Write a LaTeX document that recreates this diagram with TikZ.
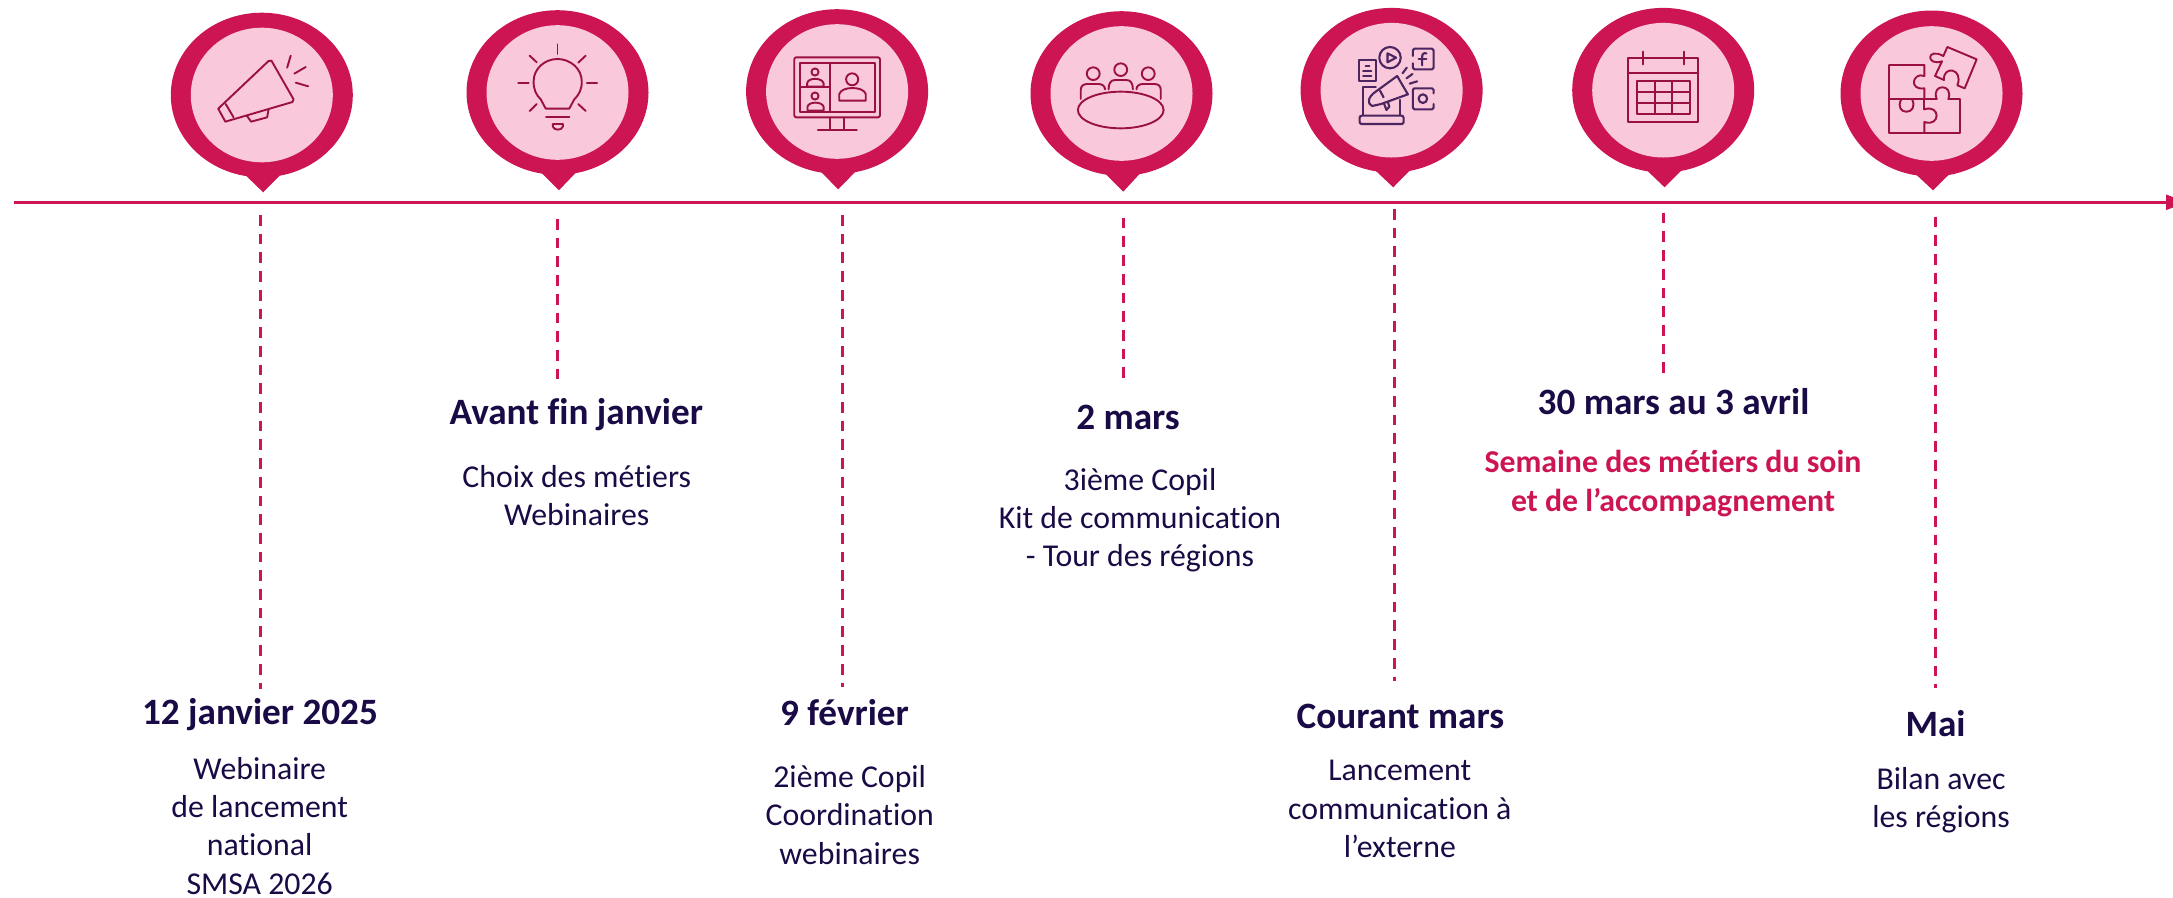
\documentclass[tikz,border=0pt]{standalone}
\usepackage{fontspec}
\setmainfont[Ligatures=NoCommon]{Carlito}
\usetikzlibrary{arrows.meta}
\definecolor{pinkdark}{HTML}{CC1552}
\definecolor{pinklight}{HTML}{F9C8DA}
\definecolor{iconred}{HTML}{9A1040}
\definecolor{iconpurple}{HTML}{4A2560}
\definecolor{navy}{HTML}{1A0A45}
\tikzset{
  axisline/.style={draw=pinkdark,line width=2.4pt,-{Triangle[length=21pt,width=15pt]}},
  dashline/.style={draw=pinkdark,line width=2.6pt,dash pattern=on 10.7pt off 8pt},
  titlelab/.style={anchor=base,inner sep=0pt,text=navy,font=\fontsize{37.2}{45}\selectfont\bfseries},
  bodylab/.style={anchor=base,inner sep=0pt,align=center,text=navy,font=\fontsize{31.8}{38.3}\selectfont},
  pinklab/.style={anchor=base,inner sep=0pt,align=center,text=pinkdark,font=\fontsize{31.8}{38.3}\selectfont\bfseries},
  iconline/.style={draw=iconred,line width=1.9pt,line join=round,line cap=round},
  iconlinep/.style={draw=iconpurple,line width=2.1pt,line join=round,line cap=round},
  zoomedA/.style={x=0.35714pt,y=-0.33333pt},
  zoomed/.style={x=0.33333pt,y=-0.33333pt}
}
\newcommand{\mypin}[8]{%
  \fill[pinkdark] (#1,#2) ellipse [x radius=#3,y radius=#4];
  \fill[pinkdark] (#1-16,#2+80.5) -- (#7,#8) -- (#1+18,#2+80.5) -- cycle;
  \fill[pinklight] (#1,#2) ellipse [x radius=#5,y radius=#6];
}
\begin{document}
\begin{tikzpicture}[x=1pt,y=-1pt]
\useasboundingbox (0,0) rectangle (2173,897);
\begin{scope}
\clip (0,0) rectangle (2173,897);
% axis
\coordinate (axisA) at (14,202.3);
\coordinate (axisB) at (2187,202.3);
\draw[axisline] (axisA) -- (axisB);
\end{scope}
% pins
\mypin{261.8}{95}{91}{82.3}{71}{67.3}{263.2}{192.3}
\mypin{557.5}{92.5}{91}{82.3}{71}{67.3}{558.9}{190.3}
\mypin{837.1}{91.5}{91}{82.3}{71}{67.3}{838.2}{189.3}
\mypin{1121.5}{93.5}{91}{82.3}{71}{67.3}{1123.2}{191.7}
\mypin{1391.6}{90.2}{91}{82.3}{71}{67.3}{1393.2}{187.3}
\mypin{1663.2}{90.2}{91}{82.3}{71}{67.3}{1664.6}{187.3}
\mypin{1931.5}{93.5}{91}{83}{71}{67.3}{1933}{190.3}
% dashed connectors
\foreach \n/\xx/\ya/\yb in {1/260.3/215/689,2/557.7/219/379,3/842.7/215/686.7,4/1123.3/217.7/377.7,5/1394.3/209/680.7,6/1663.7/212.7/372.7,7/1935.3/216.7/688}{
  \coordinate (d\n a) at (\xx,\ya);
  \coordinate (d\n b) at (\xx,\yb);
  \draw[dashline] (d\n a) -- (d\n b);
}
% labels (multi-line nodes are placed by their last baseline)
\node[titlelab] (t1) at (260,724) {12 janvier 2025};
\node[bodylab] (b1) at (259.7,894) {Webinaire\\de lancement\\national\\SMSA 2026};
\node[titlelab] (t2) at (576.3,424.3) {Avant fin janvier};
\node[bodylab] (b2) at (576.7,525.3) {Choix des métiers\\Webinaires};
\node[titlelab] (t3) at (844.5,725) {9 février};
\node[bodylab] (b3) at (849.7,864) {2ième Copil\\Coordination\\webinaires};
\node[titlelab] (t4) at (1128,429.3) {2 mars};
\node[bodylab] (b4) at (1140,566.7) {3ième Copil\\Kit de communication\\- Tour des régions};
\node[titlelab] (t5) at (1400.4,728.3) {Courant mars};
\node[bodylab] (b5) at (1399.8,857.3) {Lancement\\communication à\\l’externe};
\node[titlelab] (t6) at (1673.5,414) {30 mars au 3 avril};
\node[pinklab] (b6) at (1673,511) {Semaine des métiers du soin\\et de l’accompagnement};
\node[titlelab] (t7) at (1935.5,736) {Mai};
\node[bodylab] (b7) at (1941,827.7) {Bilan avec\\les régions};
% icon 1 megaphone
\begin{scope}[shift={(120,0)},zoomedA]
\draw[iconline] (275,326) -- (416,183) -- (424,182) -- (486,298) -- (483,306) -- (295,365) -- cycle;
\draw[iconline] (296,312) -- (318,352);
\draw[iconline] (355,347) -- (367,365) -- (412,352) -- (416,328);
\draw[iconline] (478,167) -- (468,203);
\draw[iconline] (520,201) -- (488,221);
\draw[iconline] (527,259) -- (492,248);
% icon 2 bulb
\draw[iconline] (1192,326) -- (1178,298) .. controls (1165,285) and (1158,268) .. (1158,245) .. controls (1158,205) and (1190,177) .. (1225,177) .. controls (1260,177) and (1293,205) .. (1293,245) .. controls (1293,268) and (1285,285) .. (1272,298) -- (1258,326) -- cycle;
\draw[iconline] (1193,350) -- (1258,350);
\draw[iconline] (1212,372) -- (1240,372) -- (1240,380) .. controls (1236,392) and (1216,392) .. (1212,380) -- cycle;
\draw[iconline] (1225,133) -- (1225,162);
\draw[iconline] (1147,167) -- (1167,187);
\draw[iconline] (1304,167) -- (1283,188);
\draw[iconline] (1115,250) -- (1144,250);
\draw[iconline] (1307,250) -- (1336,250);
\draw[iconline] (1147,333) -- (1167,312);
\draw[iconline] (1304,333) -- (1283,312);
\end{scope}
% icon 3 screen, icon 4 meeting
\begin{scope}[shift={(680,0)},zoomedA]
\draw[iconline,rounded corners=2pt] (320,172) rectangle (560,352);
\draw[iconline] (336,190) rectangle (545,335);
\draw[iconline] (420,190) -- (420,335);
\draw[iconline] (336,262) -- (420,262);
\draw[iconline] (420,352) -- (420,390);
\draw[iconline] (460,352) -- (460,390);
\draw[iconline] (386,390) -- (495,390);
\draw[iconline] (378,216) ellipse [x radius=10,y radius=10.7];
\draw[iconline] (356,260) -- (356,250) .. controls (358,232) and (398,232) .. (402,250) -- (402,260) -- cycle;
\draw[iconline] (378,288) ellipse [x radius=10,y radius=10.7];
\draw[iconline] (357,332) -- (357,320) .. controls (360,304) and (398,304) .. (402,320) -- (402,332) -- cycle;
\draw[iconline] (482,238) ellipse [x radius=17,y radius=18];
\draw[iconline] (446,302) -- (446,282) .. controls (452,258) and (514,258) .. (520,282) -- (520,302) -- cycle;
\draw[iconline] (1234,330) ellipse [x radius=120,y radius=55];
\draw[iconline] (1157,221) ellipse [x radius=18,y radius=19];
\draw[iconline] (1234,209) ellipse [x radius=18,y radius=19];
\draw[iconline] (1311,221) ellipse [x radius=18,y radius=19];
\draw[iconline] (1122,297) -- (1122,270) .. controls (1122,258) and (1130,252) .. (1140,252) -- (1172,252) .. controls (1182,252) and (1190,258) .. (1190,268);
\draw[iconline] (1200,268) .. controls (1200,250) and (1206,240) .. (1218,240) -- (1250,240) .. controls (1262,240) and (1268,250) .. (1268,268);
\draw[iconline] (1278,268) .. controls (1278,258) and (1286,252) .. (1296,252) -- (1328,252) .. controls (1340,252) and (1346,258) .. (1346,270) -- (1346,297);
\end{scope}
% icon 5 social, icon 6 calendar
\begin{scope}[shift={(1240,0)},zoomedA]
\draw[iconlinep] (333,180) rectangle (380,243);
\draw[iconlinep] (352,197) -- (362,197);
\draw[iconlinep] (345,212) -- (368,212);
\draw[iconlinep] (345,227) -- (368,227);
\draw[iconlinep] (420,173) ellipse [x radius=30,y radius=32];
\draw[iconlinep] (413,160) -- (437,173) -- (413,187) -- cycle;
\draw[iconlinep,rounded corners=1.5pt] (484,168) -- (484,146) -- (542,146) -- (542,208) -- (484,208) -- (484,190);
\draw[iconlinep] (522,160) .. controls (512,158) and (510,163) .. (510,172) -- (510,196);
\draw[iconlinep] (500,177) -- (522,177);
\draw[iconlinep] (467,203) -- (455,220);
\draw[iconlinep] (483,222) -- (466,235);
\draw[iconlinep] (496,244) -- (475,251);
\draw[iconlinep,rounded corners=1.5pt] (542,280) -- (542,265) -- (484,265) -- (484,328) -- (542,328) -- (542,312);
\draw[iconlinep] (512,296) ellipse [x radius=12,y radius=13];
\draw[iconlinep] (380,260) -- (345,260) -- (345,345);
\draw[iconlinep] (447,300) -- (447,345);
\draw[iconlinep,rounded corners=2pt] (335,347) -- (458,347) -- (458,372) -- (335,372) -- cycle;
\draw[iconlinep] (440,228) -- (470,283) -- (395,312);
\draw[iconlinep] (440,228) -- (380,275);
\draw[iconlinep] (380,275) .. controls (358,290) and (355,312) .. (370,318) -- (395,312);
\draw[iconlinep] (392,272) -- (402,292);
\draw[iconlinep] (403,310) -- (410,330) -- (418,320) -- (414,306);
\draw[iconline] (1087,175) rectangle (1283,367);
\draw[iconline] (1087,218) -- (1283,218);
\draw[iconline] (1129,155) -- (1129,193);
\draw[iconline] (1242,155) -- (1242,193);
\draw[iconline] (1111,244) rectangle (1260,342);
\draw[iconline] (1111,277) -- (1260,277);
\draw[iconline] (1111,310) -- (1260,310);
\draw[iconline] (1161,244) -- (1161,342);
\draw[iconline] (1210,244) -- (1210,342);
\end{scope}
% icon 7 puzzle
\begin{scope}[shift={(1740,0)},zoomed]
\draw[iconline] (447,195) -- (553,195) -- (553,228) .. controls (518,215) and (505,272) .. (553,265) -- (553,297) -- (447,297) -- cycle;
\draw[iconline] (484,297) .. controls (458,348) and (540,348) .. (516,297);
\draw[iconline] (553,297) -- (590,297) .. controls (572,250) and (642,250) .. (625,297) -- (660,297) -- (660,399) -- (447,399) -- (447,297);
\draw[iconline] (553,328) .. controls (602,312) and (602,382) .. (553,366) -- (553,399);
\draw[iconline] (553,297) -- (553,328);
\draw[iconline] (622,141) -- (710,178) -- (674,265) -- (652,256) .. controls (672,205) and (608,195) .. (612,240) -- (585,228) -- (606,184) .. controls (558,200) and (558,140) .. (610,168) -- cycle;
\end{scope}
\end{tikzpicture}
\end{document}
